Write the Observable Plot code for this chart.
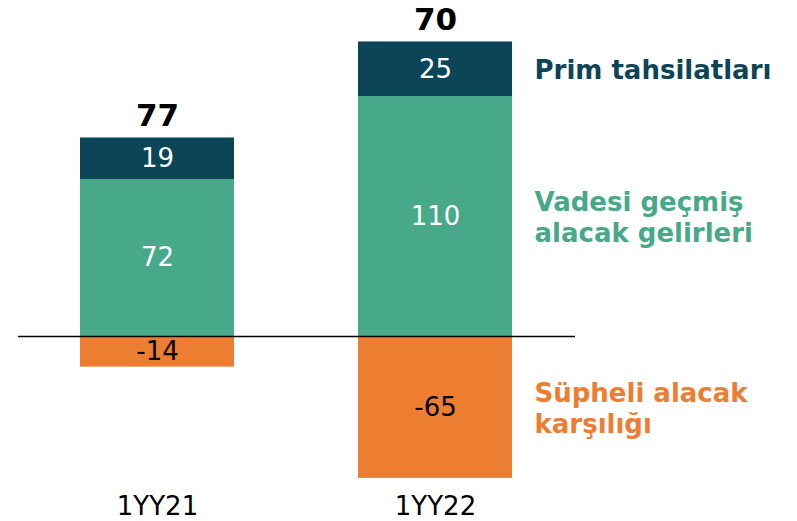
<!DOCTYPE html>
<html><head><meta charset="utf-8">
<script src="https://cdn.jsdelivr.net/npm/d3@7"></script>
<script src="https://cdn.jsdelivr.net/npm/@observablehq/plot@0.6"></script>
<style>body{margin:0;background:#fff}</style>
</head><body><div id="chart"></div>
<script>
const periods = ["1YY21", "1YY22"];
const seriesNames = ["Vadesi geçmiş\nalacak gelirleri", "Prim tahsilatları", "Süpheli alacak\nkarşılığı"];
const overdueIncome = [72, 110];
const premiumCollections = [19, 25];
const doubtfulProvision = [-14, -65];
const totals = [77, 70];
const seriesColors = ["#48a88a", "#0c4458", "#ed7d31"];

const seriesValues = [overdueIncome, premiumCollections, doubtfulProvision];
const rows = [];
seriesNames.forEach((s, si) => {
  periods.forEach((p, pi) => rows.push({series: s, period: p, value: seriesValues[si][pi]}));
});
const pos = rows.filter(d => d.value > 0);
const neg = rows.filter(d => d.value < 0);
const last = rows.filter(d => d.period === periods[periods.length - 1]);
const totalRows = periods.map((p, i) => ({period: p, top: overdueIncome[i] + premiumCollections[i], total: totals[i]}));

const chart = Plot.plot({
  width: 797,
  height: 521,
  marginLeft: 18,
  marginRight: 222,
  marginTop: 0,
  marginBottom: 30,
  style: {fontFamily: "'DejaVu Sans', Verdana, sans-serif", background: "#fff", overflow: "visible"},
  x: {domain: periods, paddingInner: 0.446, paddingOuter: 0.223, label: null},
  y: {domain: [-71, 154], axis: null},
  color: {domain: seriesNames, range: seriesColors},
  marks: [
    Plot.barY(rows, {x: "period", y: "value", fill: "series"}),
    Plot.ruleY([0], {stroke: "#000", strokeWidth: 1.5}),
    Plot.text(pos, Plot.stackY({x: "period", y: "value", text: d => String(d.value), fill: "white", fontSize: 26})),
    Plot.text(neg, Plot.stackY({x: "period", y: "value", text: d => String(d.value), fill: "black", fontSize: 26})),
    Plot.text(totalRows, {x: "period", y: "top", text: d => String(d.total), dy: -22, fontSize: 31, fontWeight: "bold", fill: "black"}),
    Plot.text(last, Plot.stackY({x: "period", y: "value", text: "series", fill: "series", textAnchor: "start", dx: 99, fontSize: 26, fontWeight: "bold", lineHeight: 1.2})),
    Plot.axisX({tickSize: 0, tickPadding: 5, fontSize: 26, label: null})
  ]
});
document.getElementById("chart").appendChild(chart);
</script>
</body></html>
